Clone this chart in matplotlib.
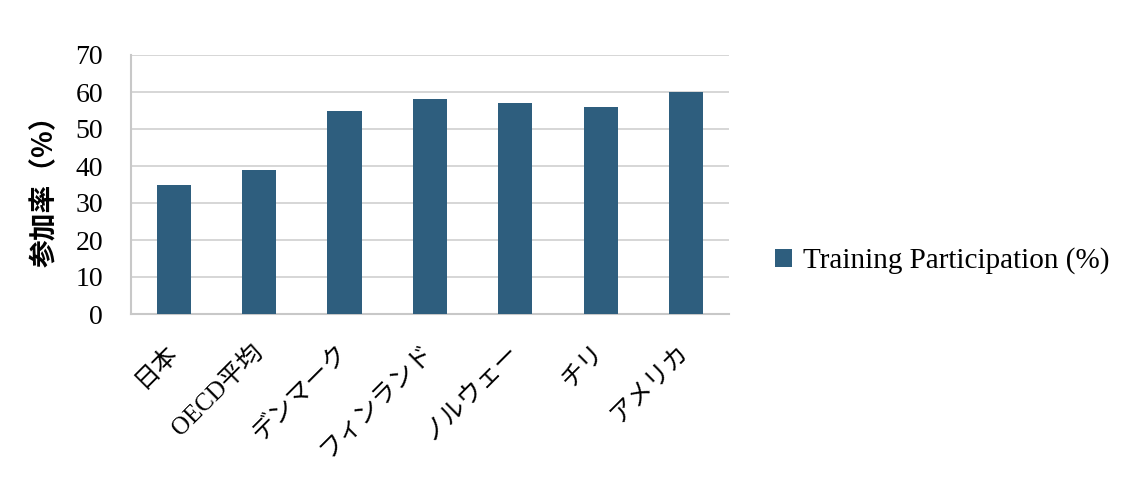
import matplotlib
matplotlib.use("Agg")
import matplotlib.pyplot as plt
import matplotlib.transforms as mtransforms
import numpy as np

categories = ["日本", "OECD平均", "デンマーク", "フィンランド", "ノルウェー", "チリ", "アメリカ"]
values = [35, 39, 55, 58, 57, 56, 60]
series_name = "Training Participation (%)"
y_ticks = [0, 10, 20, 30, 40, 50, 60, 70]

BAR_COLOR = "#2E5E7E"
GRID_COLOR = "#D0D0D0"
FONTS = ["Liberation Serif", "Noto Sans CJK JP", "DejaVu Sans"]

plt.rcParams["font.family"] = FONTS

fig = plt.figure(figsize=(11.43, 5.0), dpi=100)
ax = fig.add_axes([0.1146, 0.372, 0.523, 0.518])

x = np.arange(len(categories))
bars = ax.bar(x, values, width=0.4, color=BAR_COLOR, label=series_name, zorder=3)

ax.set_xlim(-0.5, len(categories) - 0.5)
ax.set_ylim(0, 70)
ax.set_yticks(y_ticks)
ax.set_yticklabels([str(t) for t in y_ticks], fontsize=20)
ax.yaxis.grid(True, color=GRID_COLOR, linewidth=1.2, zorder=0)
ax.tick_params(axis="both", length=0)
ax.tick_params(axis="y", pad=20)

ax.set_xticks(x)
ax.set_xticklabels(categories, rotation=45, ha="right", rotation_mode="anchor",
                   fontsize=18, family=["Liberation Serif", "Noto Sans CJK JP"])
ax.tick_params(axis="x", pad=19)
# nudge rotated labels a little left so they end under the bar centres
shift = mtransforms.ScaledTranslation(-8 / 100, 0, fig.dpi_scale_trans)
for lbl in ax.get_xticklabels():
    lbl.set_transform(lbl.get_transform() + shift)

for side in ["top", "right"]:
    ax.spines[side].set_visible(False)
for side in ["left", "bottom"]:
    ax.spines[side].set_color("#C8C8C8")
    ax.spines[side].set_linewidth(1.5)

ax.set_ylabel("参加率（%）", fontsize=20, fontweight="bold",
              family=["Noto Sans CJK JP", "DejaVu Sans"], labelpad=12)

leg = fig.legend(handles=[bars], labels=[series_name], loc="center left",
                 bbox_to_anchor=(0.655, 0.478), frameon=False, fontsize=21,
                 handlelength=0.6, handleheight=0.6, handletextpad=0.35)

fig.savefig("out.png", dpi=100)
